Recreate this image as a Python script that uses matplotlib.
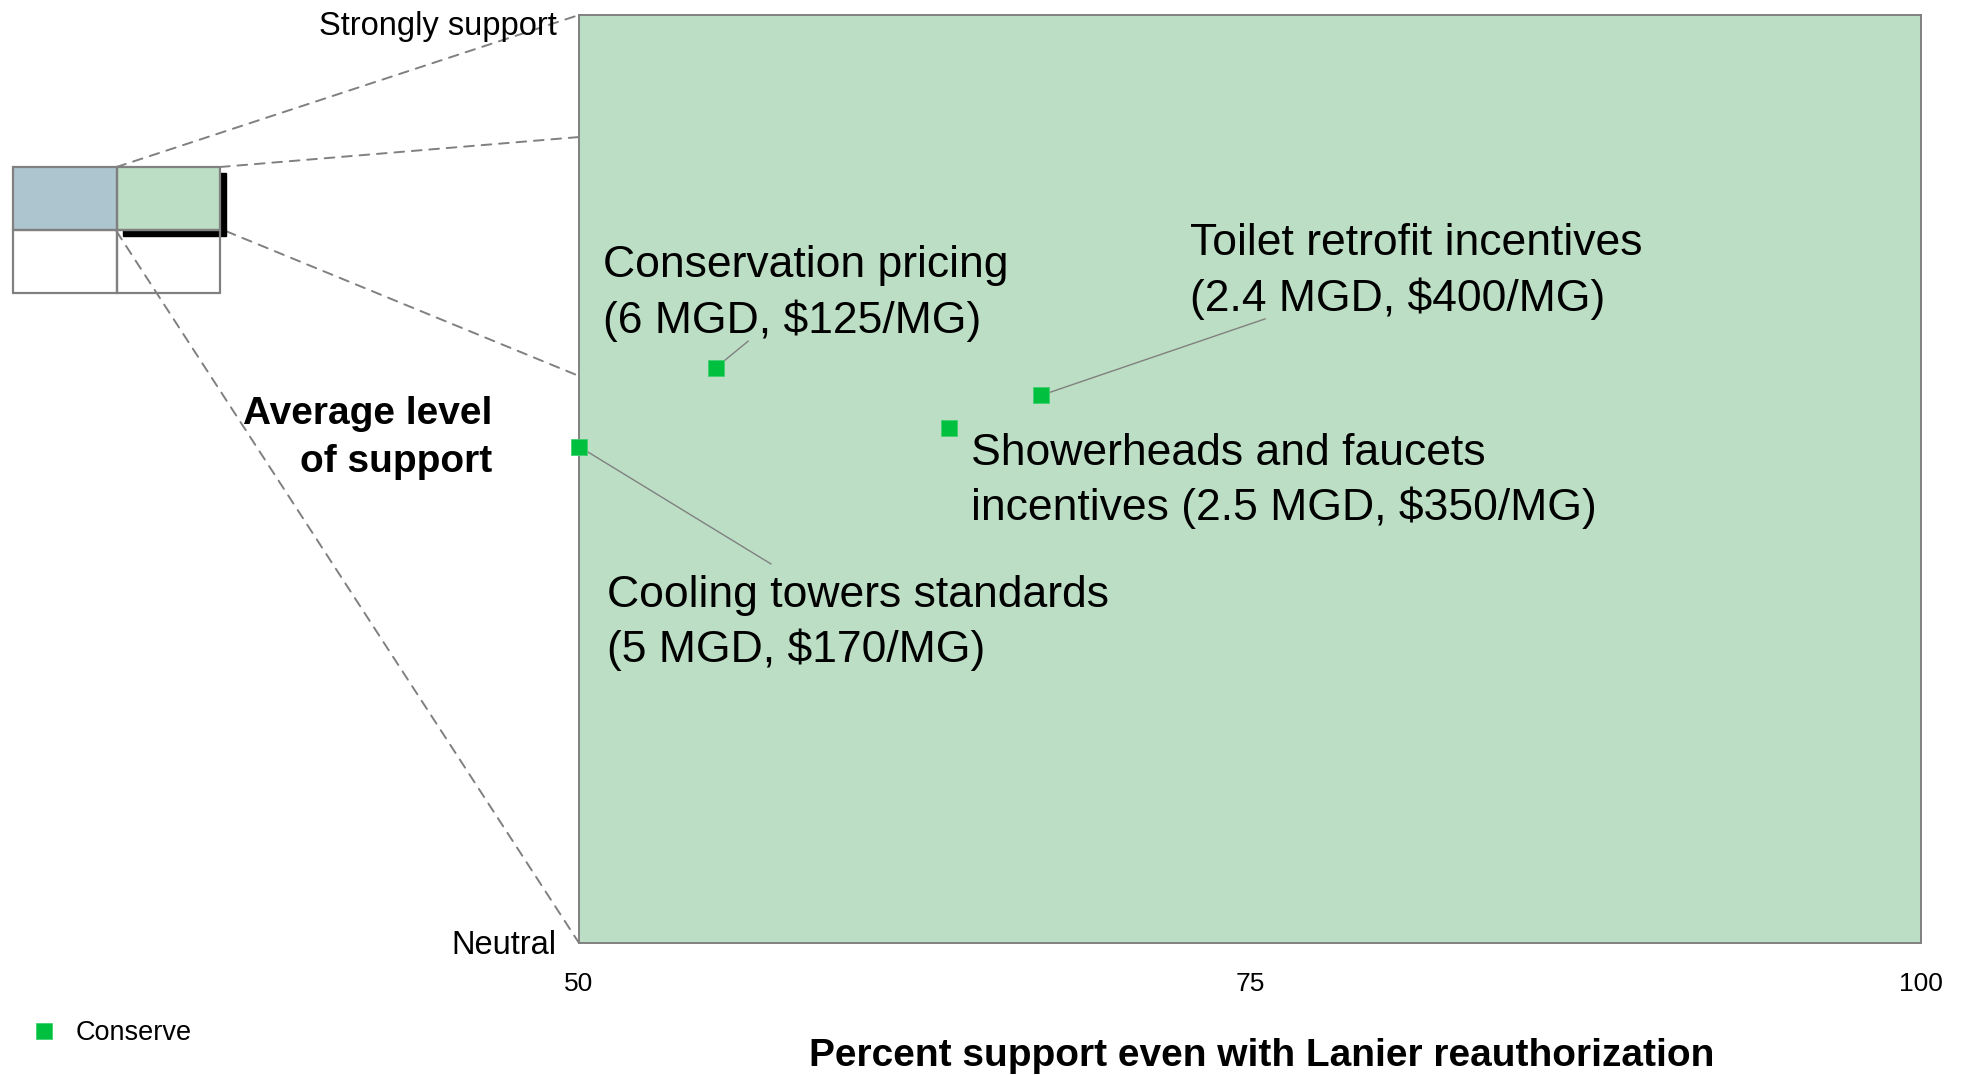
"""Support vs. percent support scatter for conservation options, with zoom inset."""
import matplotlib
matplotlib.use("Agg")
import matplotlib.pyplot as plt
from matplotlib.patches import Rectangle, ConnectionPatch

plt.rcParams["font.family"] = ["Liberation Sans", "DejaVu Sans"]

# data
options = [
    "Conservation pricing\n(6 MGD, $125/MG)",
    "Cooling towers standards\n(5 MGD, $170/MG)",
    "Showerheads and faucets\nincentives (2.5 MGD, $350/MG)",
    "Toilet retrofit incentives\n(2.4 MGD, $400/MG)",
]
pct_support = [55.1, 50.0, 63.8, 67.2]
avg_support = [4.24, 4.07, 4.11, 4.18]
label_pos = [(50.9, 4.40), (51.05, 3.69), (64.6, 3.996), (72.75, 4.447)]
leader_end = [(56.3, 4.297), (57.15, 3.817), None, (75.56, 4.345)]

x_ticks = [50, 75, 100]
y_ticks = [3, 5]
y_labels = ["Neutral", "Strongly support"]

GREEN_BG = "#bcdec4"
BLUE_BG = "#adc5ce"
MARKER = "#00c040"
GREY = "#808080"
W, H = 1967, 1075


def main():
    fig = plt.figure(figsize=(W / 100, H / 100), dpi=100)
    ax = fig.add_axes([579 / W, 1 - 943 / H, (1921 - 579) / W, (943 - 15) / H])
    ax.set_facecolor(GREEN_BG)
    ax.set_xlim(50, 100)
    ax.set_ylim(3, 5)
    for sp in ax.spines.values():
        sp.set_color(GREY)
        sp.set_linewidth(1.4)

    ax.set_xticks(x_ticks)
    ax.set_xticklabels([str(t) for t in x_ticks], fontsize=19)
    ax.tick_params(axis="x", length=0, pad=21)
    ax.set_yticks([])
    ax.text(-0.0165, 0.988, y_labels[1], transform=ax.transAxes, ha="right",
            va="center", fontsize=23.5)
    ax.text(-0.0165, -0.003, y_labels[0], transform=ax.transAxes, ha="right",
            va="center", fontsize=23.5)

    fig.text(492 / W, 1 - 438 / H, "Average level\nof support", ha="right",
             va="center", fontsize=28, fontweight="bold", linespacing=1.4)
    ax.set_xlabel("Percent support even with Lanier reauthorization",
                  fontsize=28, fontweight="bold")
    ax.xaxis.label.set_va("center")
    ax.xaxis.set_label_coords(0.509, -0.122)

    for i, txt in enumerate(options):
        end = leader_end[i]
        if end is not None:
            ax.plot([pct_support[i], end[0]], [avg_support[i], end[1]],
                    color=GREY, lw=1.0, zorder=2)
        ax.text(label_pos[i][0], label_pos[i][1], txt, ha="left", va="center",
                fontsize=32, linespacing=1.38, zorder=4)

    ax.plot(pct_support, avg_support, ls="none", marker="s", ms=12,
            color=MARKER, mec="#40d070", mew=0.6, label="Conserve",
            zorder=3, clip_on=False)

    fig.legend(loc="center left", bbox_to_anchor=(0.0115, 1 - 1033 / H),
               frameon=False, fontsize=19.5, handlelength=0.8,
               handletextpad=0.75, borderaxespad=0, markerscale=1.0)

    # zoom inset: 2x2 grid, top-right cell highlighted
    ins = fig.add_axes([13 / W, 1 - 293 / H, (220 - 13) / W, (293 - 167) / H])
    ins.set_xlim(0, 2)
    ins.set_ylim(0, 2)
    ins.axis("off")
    ins.add_patch(Rectangle((1.06, 0.905), 1, 1, color="black", zorder=1,
                            clip_on=False))
    ins.add_patch(Rectangle((0, 1), 1, 1, fc=BLUE_BG, ec="none", zorder=2))
    ins.add_patch(Rectangle((1, 1), 1, 1, fc=GREEN_BG, ec="none", zorder=2))
    for (x0, y0) in [(0, 0), (1, 0), (0, 1), (1, 1)]:
        ins.add_patch(Rectangle((x0, y0), 1, 1, fc="none", ec=GREY, lw=1.6,
                                zorder=3, clip_on=False))

    links = [((1, 2), (50, 5.0)), ((2, 2), (50, 4.737)),
             ((2.06, 0.98), (50, 4.222)), ((1, 0.98), (50, 3.0))]
    for a, b in links:
        con = ConnectionPatch(xyA=a, coordsA=ins.transData, xyB=b,
                              coordsB=ax.transData, color=GREY, lw=1.4,
                              ls=(0, (5, 4)), zorder=0)
        fig.add_artist(con)

    fig.savefig("out.png", dpi=100)
    plt.close(fig)


if __name__ == "__main__":
    main()
